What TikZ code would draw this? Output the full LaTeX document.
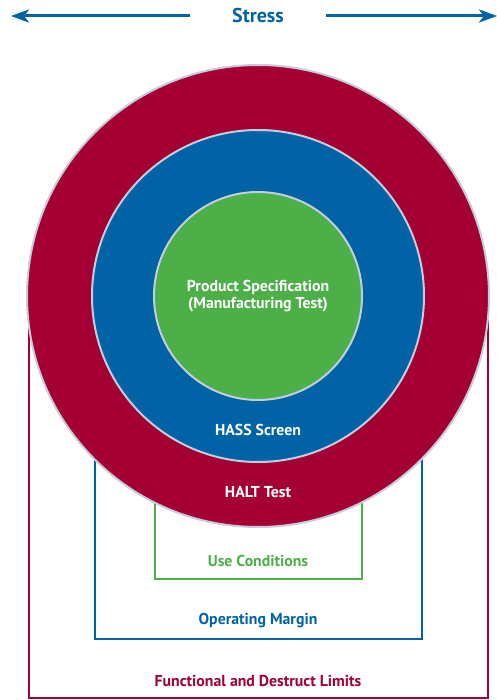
\documentclass[tikz,border=0pt]{standalone}
\usepackage{fontspec}
\setmainfont{PT Sans}
\usetikzlibrary{arrows.meta, positioning}

\definecolor{haltred}{HTML}{A50034}
\definecolor{hassblue}{HTML}{0063A5}
\definecolor{specgreen}{HTML}{4CAF48}
\definecolor{rimgray}{HTML}{C3CEDA}

\tikzset{
    ring/.style={circle, draw=rimgray, line width=2pt, inner sep=0pt},
    ringlabel/.style={text=white, font=\fontsize{15.8}{17}\selectfont\bfseries, align=center},
    boxlabel/.style={font=\fontsize{15.8}{17}\selectfont\bfseries},
    stressarrow/.style={hassblue, line width=3pt, -{Stealth[length=18pt, width=13pt, inset=5pt]}}
}

\begin{document}
\begin{tikzpicture}[x=1pt, y=-1pt]
    % Define dimensions
    \def\cx{258}
    \def\cy{296}
    \useasboundingbox (0,0) rectangle (496,700);
    % Limit boxes behind the rings
    \draw[haltred, line width=2pt] (29,\cy) rectangle (488,698);
    \draw[hassblue, line width=2pt] (95,\cy) rectangle (422,639);
    \draw[specgreen, line width=2pt] (155,\cy) rectangle (362,579);
    % Rings
    \node[ring, fill=haltred, minimum size=462pt] (halt) at (\cx,\cy) {};
    \node[ring, fill=hassblue, minimum size=332pt] (hass) at (\cx,\cy) {};
    \node[ring, fill=specgreen, minimum size=208pt] (spec) at (\cx,\cy) {};
    % Ring labels
    \node[ringlabel] (speclabel) at (\cx,\cy) {Product Specification\\(Manufacturing Test)};
    \node[ringlabel] (hasslabel) at (\cx,430) {HASS Screen};
    \node[ringlabel] (haltlabel) at (\cx,492) {HALT Test};
    % Box labels
    \node[boxlabel, text=specgreen] (uselabel) at (\cx,561) {Use Conditions};
    \node[boxlabel, text=hassblue] (oplabel) at (\cx,621) {Operating Margin};
    \node[boxlabel, text=haltred] (limlabel) at (\cx,681) {Functional and Destruct Limits};
    % Stress axis
    \node[boxlabel, font=\fontsize{20}{22}\selectfont\bfseries, text=hassblue, inner xsep=42pt] (stress) at (\cx,16) {Stress};
    \coordinate (lowend) at (11,16);
    \coordinate (highend) at (497,16);
    \draw[stressarrow] (stress.west) -- (lowend);
    \draw[stressarrow] (stress.east) -- (highend);
\end{tikzpicture}
\end{document}
